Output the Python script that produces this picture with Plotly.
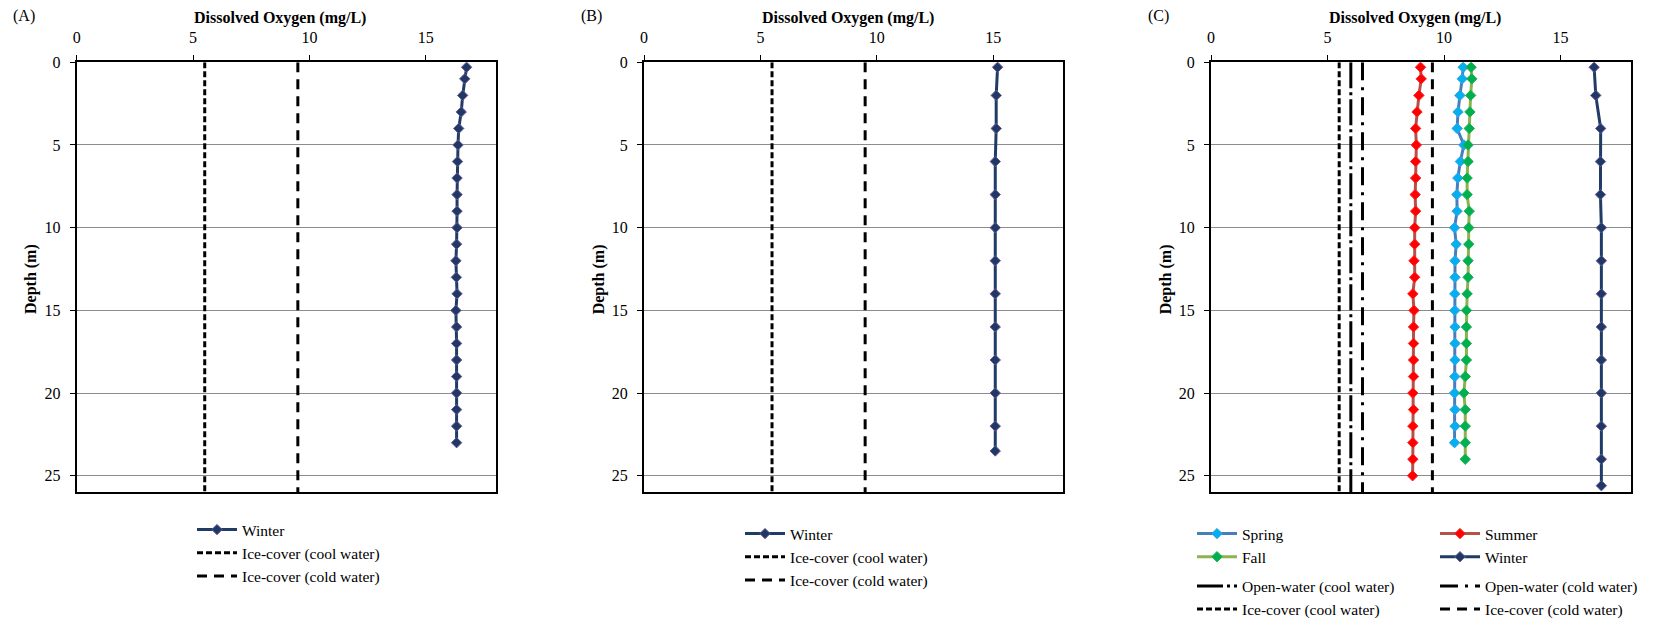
import plotly.graph_objects as go

W, H = 1674, 624

# ---------------- data ----------------
# Panel A (winter profile)
depth_A_winter = [0.3, 1, 2, 3, 4, 5, 6, 7, 8, 9, 10, 11, 12, 13, 14, 15, 16, 17, 18, 19, 20, 21, 22, 23]
do_A_winter = [16.75, 16.67, 16.58, 16.52, 16.41, 16.38, 16.36, 16.34, 16.34, 16.34, 16.34, 16.32,
               16.29, 16.31, 16.34, 16.29, 16.32, 16.32, 16.32, 16.32, 16.32, 16.32, 16.32, 16.32]

# Panel B (winter profile)
depth_B_winter = [0.3, 2, 4, 6, 8, 10, 12, 14, 16, 18, 20, 22, 23.5]
do_B_winter = [15.19, 15.13, 15.13, 15.09, 15.09, 15.09, 15.09, 15.09, 15.09, 15.09, 15.09, 15.09, 15.09]

# Panel C (seasonal profiles)
depth_C_spring = [0.3, 1, 2, 3, 4, 5, 6, 7, 8, 9, 10, 11, 12, 13, 14, 15, 16, 17, 18, 19, 20, 21, 22, 23]
do_C_spring = [10.82, 10.78, 10.68, 10.60, 10.56, 10.85, 10.70, 10.59, 10.55, 10.56, 10.45, 10.52,
               10.47, 10.47, 10.46, 10.46, 10.47, 10.47, 10.47, 10.46, 10.45, 10.47, 10.47, 10.45]

depth_C_summer = [0.3, 1, 2, 3, 4, 5, 6, 7, 8, 9, 10, 11, 12, 13, 14, 15, 16, 17, 18, 19, 20, 21, 22, 23, 24, 25]
do_C_summer = [8.99, 9.02, 8.92, 8.84, 8.78, 8.81, 8.78, 8.78, 8.76, 8.78, 8.74, 8.74, 8.71,
               8.74, 8.66, 8.71, 8.69, 8.69, 8.69, 8.69, 8.66, 8.69, 8.66, 8.66, 8.66, 8.65]

depth_C_fall = [0.3, 1, 2, 3, 4, 5, 6, 7, 8, 9, 10, 11, 12, 13, 14, 15, 16, 17, 18, 19, 20, 21, 22, 23, 24]
do_C_fall = [11.16, 11.19, 11.14, 11.11, 11.08, 11.03, 11.03, 10.99, 10.99, 11.08, 11.06, 11.06, 11.03,
             11.03, 10.99, 10.96, 10.96, 10.96, 10.96, 10.91, 10.85, 10.91, 10.91, 10.91, 10.91]

depth_C_winter = [0.3, 2, 4, 6, 8, 10, 12, 14, 16, 18, 20, 22, 24, 25.6]
do_C_winter = [16.44, 16.51, 16.72, 16.71, 16.71, 16.75, 16.75, 16.75, 16.75, 16.75, 16.75, 16.75, 16.75, 16.75]

# DO criteria (mg/L) drawn as vertical reference lines over the full depth axis
ice_cover_cool = 5.5
ice_cover_cold = 9.5
open_water_cool = 6.0
open_water_cold = 6.5
depth_span = [0, 26]

x_ticks = [0, 5, 10, 15]
y_ticks = [0, 5, 10, 15, 20, 25]

# ---------------- styling helpers ----------------
FONT = "Liberation Serif, Times New Roman, Times, serif"
def fx(p):
    return p / W
def fy(p):
    return 1 - p / H

panels = [
    dict(xa="x", ya="y", left=76.7, right=495.7, label="(A)"),
    dict(xa="x2", ya="y2", left=644.0, right=1063.0, label="(B)"),
    dict(xa="x3", ya="y3", left=1211.0, right=1630.5, label="(C)"),
]
TOP, BOTTOM = 62.3, 492.3

WINTER = dict(line="#1F3B66", marker="#1F3864", mline="#6A5A9A")
SPRING = dict(line="#4A7EBB", marker="#00B0F0", mline="#3FA0E0")
SUMMER = dict(line="#B5504C", marker="#FF0000", mline="#FF2020")
FALL = dict(line="#8DB24E", marker="#00B050", mline="#20B050")

DASH_ICE_COOL = "6px,3px"
DASH_ICE_COLD = "10px,7px"
DASH_OPEN_COOL = "26px,4px,3px,4px"
DASH_OPEN_COLD = "18px,7px,3px,7px"

fig = go.Figure()

def series(x, y, name, p, legend, c, group):
    fig.add_trace(go.Scatter(
        x=x, y=y, name=name, xaxis=p["xa"], yaxis=p["ya"], legend=legend,
        legendgroup=legend + group,
        mode="lines+markers",
        line=dict(color=c["line"], width=3),
        marker=dict(symbol="diamond", size=8, color=c["marker"], line=dict(color=c["mline"], width=1)),
    ))

def vline(value, name, p, legend, dash, group):
    fig.add_trace(go.Scatter(
        x=[value, value], y=depth_span, name=name, xaxis=p["xa"], yaxis=p["ya"], legend=legend,
        legendgroup=legend + group,
        mode="lines", line=dict(color="black", width=3, dash=dash),
    ))

pA, pB, pC = panels

# Panel A
series(do_A_winter, depth_A_winter, "Winter", pA, "legend", WINTER, "all")
vline(ice_cover_cool, "Ice-cover (cool water)", pA, "legend", DASH_ICE_COOL, "all")
vline(ice_cover_cold, "Ice-cover (cold water)", pA, "legend", DASH_ICE_COLD, "all")

# Panel B
series(do_B_winter, depth_B_winter, "Winter", pB, "legend2", WINTER, "all")
vline(ice_cover_cool, "Ice-cover (cool water)", pB, "legend2", DASH_ICE_COOL, "all")
vline(ice_cover_cold, "Ice-cover (cold water)", pB, "legend2", DASH_ICE_COLD, "all")

# Panel C (two legend columns)
series(do_C_spring, depth_C_spring, "Spring", pC, "legend3", SPRING, "seasons")
series(do_C_fall, depth_C_fall, "Fall", pC, "legend3", FALL, "seasons")
vline(open_water_cool, "Open-water (cool water)", pC, "legend3", DASH_OPEN_COOL, "criteria")
vline(ice_cover_cool, "Ice-cover (cool water)", pC, "legend3", DASH_ICE_COOL, "criteria")
series(do_C_summer, depth_C_summer, "Summer", pC, "legend4", SUMMER, "seasons")
series(do_C_winter, depth_C_winter, "Winter", pC, "legend4", WINTER, "seasons")
vline(open_water_cold, "Open-water (cold water)", pC, "legend4", DASH_OPEN_COLD, "criteria")
vline(ice_cover_cold, "Ice-cover (cold water)", pC, "legend4", DASH_ICE_COLD, "criteria")

tickfont = dict(family=FONT, size=16, color="black")
layout = dict(
    width=W, height=H,
    margin=dict(l=0, r=0, t=0, b=0, autoexpand=False),
    paper_bgcolor="white", plot_bgcolor="white",
    font=dict(family=FONT, size=16, color="black"),
    showlegend=True,
    annotations=[],
)

for i, p in enumerate(panels):
    sx = "" if i == 0 else str(i + 1)
    layout["xaxis" + sx] = dict(
        domain=[fx(p["left"]), fx(p["right"])], anchor=p["ya"], side="top",
        range=[0, 18], tickvals=x_ticks, ticks="outside", ticklen=5, tickwidth=1, tickcolor="black",
        showline=True, linecolor="black", linewidth=2, mirror=True,
        showgrid=False, zeroline=False, tickfont=tickfont, ticklabelstandoff=6, automargin=False,
    )
    layout["yaxis" + sx] = dict(
        domain=[fy(BOTTOM), fy(TOP)], anchor=p["xa"],
        range=[26, 0], tickvals=y_ticks, ticks="outside", ticklen=5, tickwidth=1, tickcolor="black",
        showline=True, linecolor="black", linewidth=2, mirror=True,
        showgrid=True, gridcolor="#8C8C8C", gridwidth=1, zeroline=False,
        tickfont=tickfont, ticklabelstandoff=6, automargin=False,
    )
    layout["annotations"] += [
        dict(text="<b>Dissolved Oxygen (mg/L)</b>", x=fx((p["left"] + p["right"]) / 2 - 6), y=fy(18),
             xref="paper", yref="paper", showarrow=False, xanchor="center", yanchor="middle",
             font=dict(family=FONT, size=16, color="black")),
        dict(text="<b>Depth (m)</b>", x=fx(p["left"] - 45), y=fy((TOP + BOTTOM) / 2 + 2),
             xref="paper", yref="paper", showarrow=False, xanchor="center", yanchor="middle",
             textangle=-90, font=dict(family=FONT, size=16, color="black")),
        dict(text=p["label"], x=fx(p["left"] - 53), y=fy(16),
             xref="paper", yref="paper", showarrow=False, xanchor="center", yanchor="middle",
             font=dict(family=FONT, size=16, color="black")),
    ]

legend_common = dict(
    font=dict(family=FONT, size=15.5, color="black"), bgcolor="rgba(0,0,0,0)",
    orientation="v", xanchor="left", yanchor="top", traceorder="grouped",
    itemwidth=40, itemclick=False, itemdoubleclick=False, tracegroupgap=0,
)
layout["legend"] = dict(legend_common, x=fx(192), y=fy(513))
layout["legend2"] = dict(legend_common, x=fx(740), y=fy(517))
layout["legend3"] = dict(legend_common, x=fx(1192), y=fy(517), tracegroupgap=6)
layout["legend4"] = dict(legend_common, x=fx(1435), y=fy(517), tracegroupgap=6)

fig.update_layout(**layout)
fig.write_html("out.html")
